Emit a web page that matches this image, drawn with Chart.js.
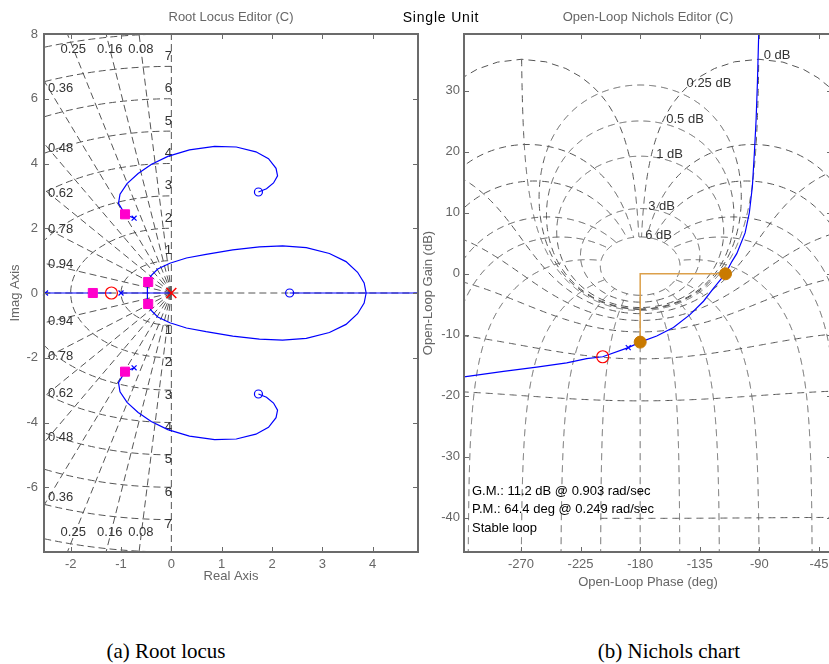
<!DOCTYPE html>
<html>
<head>
<meta charset="utf-8">
<script src="https://cdn.jsdelivr.net/npm/chart.js@4.4.1/dist/chart.umd.min.js"></script>
<style>
  body { margin: 0; width: 829px; height: 664px; overflow: hidden; background: #fff; position: relative; }
  canvas { position: absolute; top: 0; }
  #rl { left: 0; }
  #nc { left: 420px; }
  .head { position: absolute; top: 9px; left: 341px; width: 200px; text-align: center; font: 14px "Liberation Sans", Arial, sans-serif; letter-spacing: 0.8px; color: #000; }
  .cap { position: absolute; top: 639px; width: 260px; text-align: center; font: 21px "Liberation Serif", "Times New Roman", serif; color: #000; }
</style>
</head>
<body>
<canvas id="rl" width="420" height="600"></canvas>
<canvas id="nc" width="430" height="600"></canvas>
<div class="head">Single Unit</div>
<div class="cap" style="left:36px">(a) Root locus</div>
<div class="cap" style="left:539px">(b) Nichols chart</div>
<script>
// ---------- root locus (real, imag) ----------
const rlXTicks = [-2, -1, 0, 1, 2, 3, 4];
const rlYTicks = [-6, -4, -2, 0, 2, 4, 6, 8];
const dampingLines = [0.08, 0.16, 0.25, 0.36, 0.48, 0.62, 0.78, 0.94];
const freqCircles = [1, 2, 3, 4, 5, 6, 7, 8];
const freqLabels = [1, 2, 3, 4, 5, 6, 7];

const branchUpper = [[-0.74, 2.31], [-0.92, 2.43], [-1.05, 2.77], [-1.02, 3.05], [-0.88, 3.38], [-0.66, 3.69],
  [-0.40, 3.97], [-0.07, 4.22], [0.36, 4.42], [0.86, 4.53], [1.29, 4.51], [1.68, 4.36], [1.93, 4.15],
  [2.08, 3.85], [2.11, 3.62], [2.03, 3.40], [1.89, 3.22], [1.73, 3.12]];
const branchLower = [[-0.74, -2.31], [-0.92, -2.43], [-1.05, -2.77], [-1.02, -3.05], [-0.88, -3.38], [-0.66, -3.69],
  [-0.40, -3.97], [-0.07, -4.22], [0.36, -4.42], [0.86, -4.53], [1.29, -4.51], [1.68, -4.36], [1.93, -4.15],
  [2.08, -3.85], [2.11, -3.62], [2.03, -3.40], [1.89, -3.22], [1.73, -3.12]];
const loopUpper = [[-0.476, 0], [-0.476, 0.22], [-0.46, 0.34], [-0.41, 0.52], [-0.27, 0.74], [-0.03, 0.92],
  [0.30, 1.08], [0.69, 1.195], [1.22, 1.33], [1.75, 1.425], [2.21, 1.455], [2.68, 1.40], [3.14, 1.22],
  [3.47, 0.97], [3.70, 0.64], [3.83, 0.31], [3.87, 0]];
const loopLower = [[-0.476, 0], [-0.476, -0.22], [-0.46, -0.34], [-0.41, -0.52], [-0.27, -0.74], [-0.03, -0.92],
  [0.30, -1.08], [0.69, -1.195], [1.22, -1.33], [1.75, -1.425], [2.21, -1.455], [2.68, -1.40], [3.14, -1.22],
  [3.47, -0.97], [3.70, -0.64], [3.83, -0.31], [3.87, 0]];
const realLeft = [[-2.5, 0], [-1.19, 0]];
const realMid = [[-1.0, 0], [0, 0]];
const realRight = [[2.35, 0], [4.9, 0]];

const plantPoles = [[-2.5, 0], [-1.0, 0], [-0.74, 2.31], [-0.74, -2.31]];
const plantZeros = [[2.35, 0], [1.73, 3.12], [1.73, -3.12]];
const compPoles = [[0, 0]];
const compZeros = [[-1.19, 0]];
const closedLoopPoles = [[-1.56, 0], [-0.46, 0.34], [-0.46, -0.34], [-0.92, 2.43], [-0.92, -2.43]];

// ---------- Nichols (phase deg, gain dB) ----------
const ncXTicks = [-270, -225, -180, -135, -90, -45];
const ncYTicks = [-40, -30, -20, -10, 0, 10, 20, 30];
const olPhase = [-313, -283.2, -258.1, -235.5, -220.4, -208.3, -189, -180, -167.5, -154.9, -142.4, -132.2,
  -124.7, -118.4, -115.6, -110.8, -107.1, -100.8, -97.6, -95.3, -93.8, -92.5, -91.5, -90.5];
const olGain = [-16.9, -16.0, -15.3, -14.6, -13.9, -13.6, -12.1, -11.2, -10.2, -8.8, -6.7, -4.5,
  -2.4, -0.7, 0, 2.0, 3.3, 6.7, 10.0, 14.3, 19.8, 25.2, 31.3, 39.5];
const gainMargin = 11.2;   // dB
const phaseMargin = 64.4;  // deg
const compZeroN = [[-208.3, -13.6]];
const compPoleN = [[-189, -12.1]];
const mContours = [6, 3, 1, 0.5, 0.25, 0, -1, -3, -6, -12, -20, -40];
const nContours = [-1, -5, -10, -20, -30, -50, -90, -120, -150, -180, -210, -240, -270, -310, -330, -340, -350, -355, -359];
const mLabelled = [6, 3, 1, 0.5, 0.25, 0];
const marginText = ['G.M.: 11.2 dB @ 0.903 rad/sec', 'P.M.: 64.4 deg @ 0.249 rad/sec', 'Stable loop'];

const FONT = '"Liberation Sans", Arial, sans-serif';
Chart.defaults.font.family = FONT;
Chart.defaults.font.size = 13;

const pts = arr => arr.map(([x, y]) => ({ x, y }));
const deg = Math.PI / 180;
const dB = v => 20 * Math.log10(v);

function curve(data, color, width) {
  return { data: pts(data), showLine: true, borderColor: color, borderWidth: width || 1.2, pointRadius: 0, fill: false };
}
function marker(data, style, r, color, fillColor, bw) {
  return { data: pts(data), showLine: false, pointStyle: style, pointRadius: r, borderColor: color,
    backgroundColor: fillColor || 'rgba(0,0,0,0)', borderWidth: bw || 1.2, clip: false };
}

// MATLAB-like box with inward ticks on all four sides
const framePlugin = {
  id: 'frame',
  afterDatasetsDraw(chart) {
    const { ctx, chartArea: a, scales: { x, y } } = chart;
    ctx.save();
    ctx.strokeStyle = '#6b6b6b';
    ctx.lineWidth = 1;
    ctx.beginPath();
    x.ticks.forEach(t => {
      const p = Math.round(x.getPixelForValue(t.value)) + 0.5;
      ctx.moveTo(p, a.top); ctx.lineTo(p, a.top + 5);
      ctx.moveTo(p, a.bottom); ctx.lineTo(p, a.bottom - 5);
    });
    y.ticks.forEach(t => {
      const p = Math.round(y.getPixelForValue(t.value)) + 0.5;
      ctx.moveTo(a.left, p); ctx.lineTo(a.left + 5, p);
      ctx.moveTo(a.right, p); ctx.lineTo(a.right - 5, p);
    });
    ctx.stroke();
    ctx.lineWidth = 2;
    ctx.strokeRect(a.left, a.top, a.width, a.height);
    ctx.restore();
  }
};

// damping / natural frequency grid
const sgridPlugin = {
  id: 'sgrid',
  beforeDatasetsDraw(chart) {
    const { ctx, chartArea: a, scales: { x, y } } = chart;
    const ox = x.getPixelForValue(0), oy = y.getPixelForValue(0);
    const kx = x.getPixelForValue(1) - ox, ky = oy - y.getPixelForValue(1);
    ctx.save();
    ctx.beginPath(); ctx.rect(a.left, a.top, a.width, a.height); ctx.clip();
    ctx.strokeStyle = '#555'; ctx.lineWidth = 1; ctx.setLineDash([7, 4]);
    const ray = (dx, dy) => {
      ctx.beginPath(); ctx.moveTo(ox, oy); ctx.lineTo(ox + dx * 30 * kx, oy - dy * 30 * ky); ctx.stroke();
    };
    ray(0, 1); ray(0, -1); ray(-1, 0); ray(1, 0);
    dampingLines.forEach(z => { const w = Math.sqrt(1 - z * z); ray(-z, w); ray(-z, -w); });
    freqCircles.forEach(r => {
      ctx.beginPath(); ctx.ellipse(ox, oy, r * kx, r * ky, 0, Math.PI / 2, Math.PI * 1.5); ctx.stroke();
    });
    ctx.restore();

    ctx.save();
    ctx.fillStyle = '#333'; ctx.font = '13px ' + FONT; ctx.textBaseline = 'middle';
    const ylab = 7.55;
    dampingLines.forEach(z => {
      const t = Math.sqrt(1 - z * z) / z;
      const yEdge = -x.min * t;
      if (yEdge < ylab) {
        ctx.textAlign = 'left';
        ctx.fillText(String(z), a.left + 4, y.getPixelForValue(yEdge * 0.965));
        ctx.fillText(String(z), a.left + 4, y.getPixelForValue(-yEdge * 0.965));
      } else {
        ctx.textAlign = 'center';
        const px = x.getPixelForValue(-ylab / t);
        ctx.fillText(String(z), px, a.top + 15);
        ctx.fillText(String(z), px, a.bottom - 20);
      }
    });
    ctx.textAlign = 'center';
    freqLabels.forEach(r => {
      ctx.fillText(String(r), ox - 3, y.getPixelForValue(r) - 10);
      ctx.fillText(String(r), ox - 3, y.getPixelForValue(-r) + 5);
    });
    ctx.restore();
  }
};

// closed-loop gain contours
function mCurve(mdb) {
  const M = Math.pow(10, mdb / 20), M2 = M * M, out = [];
  if (mdb > 0) {
    const c = -M2 / (M2 - 1), r = M / (M2 - 1);
    for (let i = 0; i <= 720; i++) {
      const t = i * Math.PI / 360, re = c + r * Math.cos(t), im = r * Math.sin(t);
      let ph = Math.atan2(im, re) / deg;
      if (ph > 0) ph -= 360;
      out.push([ph, dB(Math.hypot(re, im))]);
    }
  } else if (mdb === 0) {
    for (let ph = -270; ph <= -90; ph += 0.05) {
      const g = -0.5 / Math.cos(ph * deg);
      if (g > 0 && dB(g) <= 35.5) out.push([ph, dB(g)]);
    }
  } else {
    const start = mdb <= -40 ? -210 : -360;
    for (let ph = start; ph <= 0; ph += 1) {
      const c = Math.cos(ph * deg);
      const g = (M2 * c + Math.sqrt(M2 * M2 * c * c + M2 * (1 - M2))) / (1 - M2);
      out.push([ph, dB(g)]);
    }
  }
  return out;
}
// closed-loop phase contours, swept in closed-loop gain up to the innermost (6 dB) contour
function nCurve(p) {
  const out = [], c = Math.cos(p * deg), s = Math.sin(p * deg);
  for (let d = -300; d <= 6.0001; d += (d < -60 ? 5 : 0.05)) {
    const m = Math.pow(10, d / 20), tr = m * c, ti = m * s;
    const dr = 1 - tr, di = -ti, den = dr * dr + di * di;
    const lr = (tr * dr + ti * di) / den, li = (ti * dr - tr * di) / den;
    let ph = Math.atan2(li, lr) / deg;
    while (ph > 0) ph -= 360;
    while (ph <= -360) ph += 360;
    out.push([ph, dB(Math.hypot(lr, li))]);
  }
  return out;
}

const ngridPlugin = {
  id: 'ngrid',
  beforeDatasetsDraw(chart) {
    const { ctx, chartArea: a, scales: { x, y } } = chart;
    const stroke = list => {
      ctx.beginPath();
      list.forEach(([p, g], i) => {
        const px = x.getPixelForValue(p), py = y.getPixelForValue(Math.max(g, -400));
        i ? ctx.lineTo(px, py) : ctx.moveTo(px, py);
      });
      ctx.stroke();
    };
    ctx.save();
    ctx.beginPath(); ctx.rect(a.left, a.top, a.width, a.height); ctx.clip();
    ctx.strokeStyle = '#555'; ctx.lineWidth = 1; ctx.setLineDash([7, 5]);
    mContours.forEach(m => stroke(mCurve(m)));
    nContours.forEach(p => stroke(nCurve(p)));
    ctx.restore();

    // contour labels sit at the top of each closed curve
    const labelPhase = { 6: -176.2, 3: -174, 1: -167.9, 0.5: -160.3, 0.25: -145, 0: -86.7 };
    ctx.save();
    ctx.fillStyle = '#333'; ctx.font = '13px ' + FONT; ctx.textAlign = 'left'; ctx.textBaseline = 'middle';
    mLabelled.forEach(m => {
      const M = Math.pow(10, m / 20);
      const top = m > 0 ? dB(M / (M - 1)) : 35.5;
      ctx.fillText(m + ' dB', x.getPixelForValue(labelPhase[m]), y.getPixelForValue(top + 0.3));
    });
    ctx.restore();
  },
  afterDatasetsDraw(chart) {
    const { ctx, chartArea: a } = chart;
    ctx.save();
    ctx.fillStyle = '#000'; ctx.font = '13px ' + FONT; ctx.textAlign = 'left'; ctx.textBaseline = 'middle';
    marginText.forEach((t, i) => ctx.fillText(t, a.left + 8, a.bottom - 61 + i * 18.5));
    ctx.restore();
  }
};

function scale(min, max, ticks, title, width, height, titlePad, labelPad) {
  return {
    type: 'linear', min, max,
    grid: { display: false, drawTicks: false },
    border: { display: false },
    ticks: { color: '#666', padding: labelPad, autoSkip: false, maxRotation: 0, callback: v => String(v) },
    afterBuildTicks: s => { s.ticks = ticks.map(v => ({ value: v })); },
    afterFit: s => {
      if (width) s.width = width;
      if (height) s.height = height;
      s.paddingLeft = 0; s.paddingRight = 0; s.paddingTop = 0; s.paddingBottom = 0;
    },
    title: { display: true, text: title, color: '#666', font: { size: 13 }, padding: titlePad }
  };
}

const baseOptions = (title, padRight) => ({
  responsive: false,
  animation: false,
  events: [],
  layout: { autoPadding: false, padding: { right: padRight } },
  plugins: {
    legend: { display: false },
    tooltip: { enabled: false },
    title: { display: true, text: title, color: '#666', font: { size: 13, weight: 'normal' },
      padding: { top: 9.2, bottom: 9.2 }, fullSize: false }
  }
});

// ---------- (a) root locus ----------
const rlOpts = baseOptions('Root Locus Editor (C)', 2);
rlOpts.scales = {
  x: scale(-2.53, 4.9, rlXTicks, 'Real Axis', 0, 48, { top: 0, bottom: 16.2 }, 5),
  y: scale(-8, 8, rlYTicks, 'Imag Axis', 44, 0, { top: 7.2, bottom: 0 }, 6)
};
new Chart(document.getElementById('rl'), {
  type: 'scatter',
  data: {
    datasets: [
      marker(closedLoopPoles, 'rect', 6.4, '#ff00cc', '#ff00cc', 1),
      marker(compPoles, 'crossRot', 7, '#ff0000', null, 1.5),
      marker(compZeros, 'circle', 6, '#ff0000', null, 1.2),
      marker(plantPoles, 'crossRot', 3.5, '#0000ff', null, 1.2),
      marker(plantZeros, 'circle', 4, '#0000ff', null, 1.2),
      curve(branchUpper, '#0000ff'),
      curve(branchLower, '#0000ff'),
      curve(loopUpper, '#0000ff'),
      curve(loopLower, '#0000ff'),
      curve(realLeft, '#0000ff'),
      curve(realMid, '#0000ff'),
      curve(realRight, '#0000ff')
    ]
  },
  options: rlOpts,
  plugins: [sgridPlugin, framePlugin]
});

// ---------- (b) Nichols chart ----------
const openLoop = olPhase.map((p, i) => [p, olGain[i]]);
const marginPath = [[-180 + phaseMargin, 0], [-180, 0], [-180, -gainMargin]];
const marginDots = [[-180 + phaseMargin, 0], [-180, -gainMargin]];

const ncOpts = baseOptions('Open-Loop Nichols Editor (C)', 18);
ncOpts.scales = {
  x: scale(-313, -35.2, ncXTicks, 'Open-Loop Phase (deg)', 0, 48, { top: 0, bottom: 10.2 }, 5),
  y: scale(-45.6, 39.3, ncYTicks, 'Open-Loop Gain (dB)', 44, 0, { top: 0.2, bottom: 0 }, 4)
};
new Chart(document.getElementById('nc'), {
  type: 'scatter',
  data: {
    datasets: [
      marker(marginDots, 'circle', 6, '#c97a00', '#c97a00', 1),
      marker(compZeroN, 'circle', 6, '#ff0000', null, 1.2),
      marker(compPoleN, 'crossRot', 3.5, '#0000ff', null, 1.2),
      curve(marginPath, '#dca04a', 1.5),
      curve(openLoop, '#0000ff')
    ]
  },
  options: ncOpts,
  plugins: [ngridPlugin, framePlugin]
});
</script>
</body>
</html>
